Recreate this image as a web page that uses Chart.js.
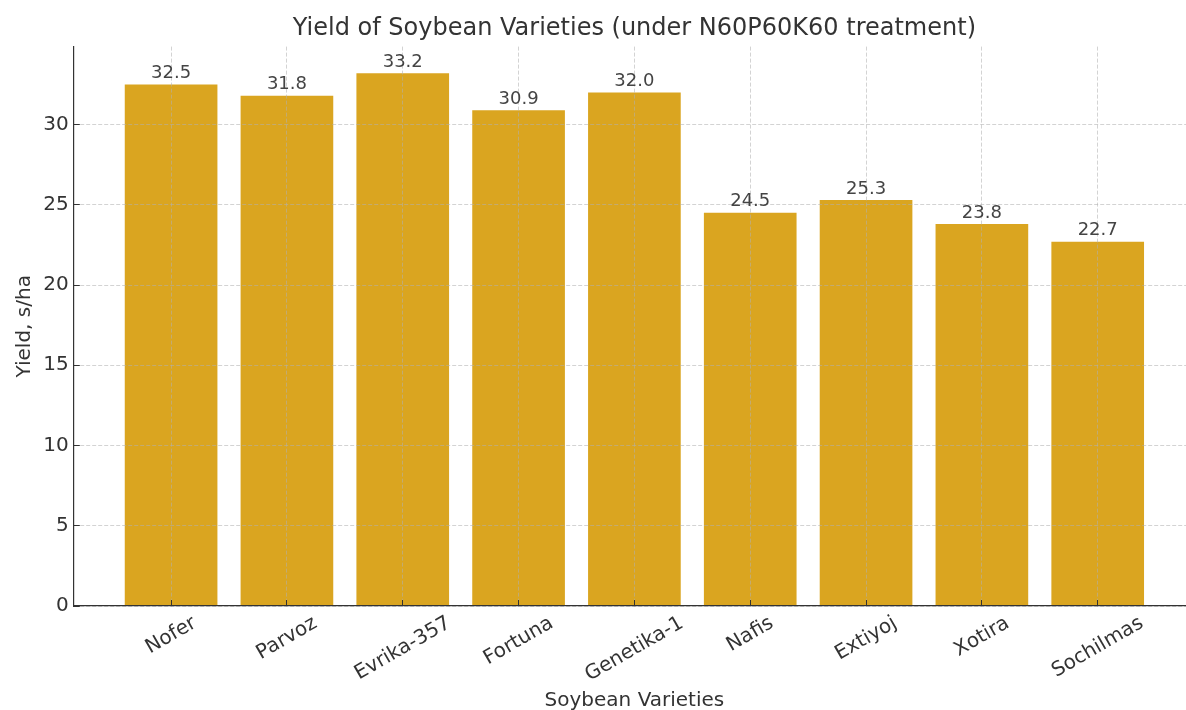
<!DOCTYPE html>
<html>
<head>
<meta charset="utf-8">
<script src="https://cdn.jsdelivr.net/npm/chart.js@4.4.0/dist/chart.umd.min.js"></script>
<style>
html, body { margin: 0; padding: 0; background: #fff; overflow: hidden; }
#wrap { position: relative; width: 1195px; height: 710px; }
</style>
</head>
<body>
<div id="wrap"><canvas id="myChart"></canvas></div>
<script>
const varieties = ['Nofer', 'Parvoz', 'Evrika-357', 'Fortuna', 'Genetika-1', 'Nafis', 'Extiyoj', 'Xotira', 'Sochilmas'];
const yields = [32.5, 31.8, 33.2, 30.9, 32.0, 24.5, 25.3, 23.8, 22.7];
const yTicks = [0, 5, 10, 15, 20, 25, 30];

Chart.defaults.font.family = '"DejaVu Sans", sans-serif';
Chart.defaults.color = '#333';

const gridColor = 'rgba(176,176,176,0.7)';

// value labels above bars
const valueLabels = {
    id: 'valueLabels',
    afterDraw(chart) {
        const ctx = chart.ctx;
        const meta = chart.getDatasetMeta(0);
        ctx.save();
        ctx.font = '18px "DejaVu Sans"';
        ctx.fillStyle = '#444';
        ctx.textAlign = 'center';
        ctx.textBaseline = 'alphabetic';
        meta.data.forEach((bar, i) => {
            ctx.fillText(yields[i].toFixed(1), bar.x, bar.y - 6.5);
        });
        ctx.restore();
    }
};

// rotated category labels, centred on the tick like matplotlib
const xLabels = {
    id: 'xLabels',
    afterDraw(chart) {
        const ctx = chart.ctx;
        const x = chart.scales.x;
        const a = 30 * Math.PI / 180;
        const h = 23.3;
        ctx.save();
        ctx.font = '20px "DejaVu Sans"';
        ctx.fillStyle = '#333';
        ctx.textAlign = 'center';
        ctx.textBaseline = 'middle';
        varieties.forEach((name, i) => {
            const w = ctx.measureText(name).width;
            const boxH = w * Math.sin(a) + h * Math.cos(a);
            const cx = x.getPixelForValue(i);
            const cy = x.top + 5.7 + boxH / 2;
            ctx.save();
            ctx.translate(cx, cy);
            ctx.rotate(-a);
            ctx.fillText(name, 0, 0);
            ctx.restore();
        });
        ctx.restore();
    }
};

var ctx = document.getElementById('myChart').getContext('2d');
var myChart = new Chart(ctx, {
    type: 'bar',
    data: {
        datasets: [{
            label: 'Yield',
            data: yields.map((v, i) => ({ x: i, y: v })),
            backgroundColor: '#DAA520',
            borderWidth: 0,
            barPercentage: 0.8,
            categoryPercentage: 1.0
        }]
    },
    options: {
        responsive: true,
        maintainAspectRatio: false,
        animation: false,
        layout: { padding: 0 },
        plugins: {
            legend: { display: false },
            tooltip: { enabled: false },
            title: {
                display: true,
                text: 'Yield of Soybean Varieties (under N60P60K60 treatment)',
                fullSize: false,
                color: '#333',
                font: { size: 24, weight: 'normal', lineHeight: 1.2 },
                padding: { top: 14.4, bottom: 3.4 }
            }
        },
        scales: {
            x: {
                type: 'linear',
                min: -0.84,
                max: 8.84,
                offset: false,
                afterBuildTicks: s => { s.ticks = varieties.map((_, i) => ({ value: i })); },
                afterFit: s => { s.height = 104; },
                ticks: { display: false },
                grid: {
                    z: 1,
                    offset: false,
                    color: gridColor,
                    lineWidth: 0.8,
                    tickLength: -6,
                    tickColor: '#333',
                    tickWidth: 1,
                    tickBorderDash: []
                },
                border: { z: 2, color: '#333', width: 1.2, dash: [4, 2] },
                title: {
                    display: true,
                    text: 'Soybean Varieties',
                    color: '#333',
                    font: { size: 20, lineHeight: 0.9 },
                    padding: 0
                }
            },
            y: {
                min: 0,
                max: 34.86,
                afterBuildTicks: s => { s.ticks = yTicks.map(v => ({ value: v })); },
                afterFit: s => { s.width = 73.8; },
                ticks: { font: { size: 20 }, color: '#333', padding: 11 },
                grid: {
                    z: 1,
                    color: gridColor,
                    lineWidth: 0.8,
                    tickLength: -6,
                    tickColor: '#333',
                    tickWidth: 1,
                    tickBorderDash: []
                },
                border: { z: 2, color: '#333', width: 1.2, dash: [4, 2] },
                title: {
                    display: true,
                    text: 'Yield, s/ha',
                    color: '#333',
                    font: { size: 20, lineHeight: 1 },
                    padding: { top: 15, bottom: 0 }
                }
            }
        }
    },
    plugins: [valueLabels, xLabels]
});
</script>
</body>
</html>
